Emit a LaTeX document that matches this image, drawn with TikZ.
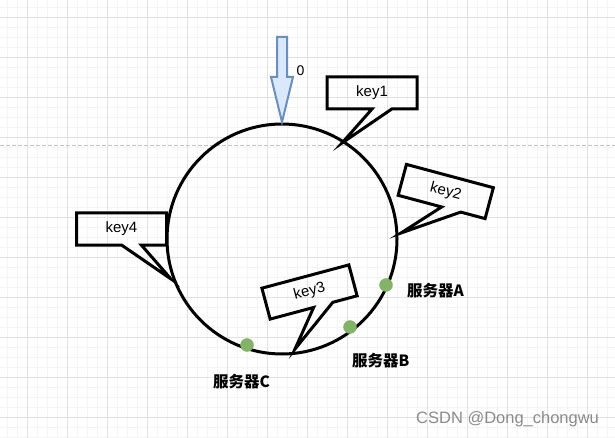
\documentclass[tikz,border=0pt]{standalone}
\usepackage{fontspec}
\setmainfont{Liberation Sans}
\newfontfamily\cjkfont{Noto Sans CJK SC}
\usetikzlibrary{calc}
\definecolor{gridmajor}{HTML}{E2E2E2}
\definecolor{gridminor}{HTML}{F4F4F4}
\definecolor{pagebreak}{HTML}{C4C4C4}
\definecolor{arrowline}{HTML}{6C8EBF}
\definecolor{arrowfill}{HTML}{DAE8FC}
\definecolor{dotgreen}{HTML}{82B366}
\definecolor{markgray}{HTML}{8A8A8A}
\newcommand\keycallout[2]{%
  \draw[calloutline] (#1.north west) -- (#1.north east) -- (#1.south east)
    -- ($(#1.south west)!0.72!(#1.south east)$) -- (#2)
    -- ($(#1.south west)!0.5!(#1.south east)$) -- (#1.south west) -- cycle;}
\begin{document}
\begin{tikzpicture}[x=1pt,y=-1pt,
  keybox/.style={minimum width=90pt, minimum height=32pt, inner sep=0pt, outer sep=0pt,
    font=\fontsize{15}{18}\selectfont},
  calloutline/.style={draw=black, line width=3pt, line join=miter},
  server/.style={anchor=west, inner sep=0pt, font=\cjkfont\bfseries\fontsize{15.5}{17}\selectfont},
  srvdot/.style={circle, fill=dotgreen, draw=dotgreen, minimum size=13pt, inner sep=0pt},
  ringstyle/.style={circle, draw=black, line width=3pt, minimum size=230pt, inner sep=0pt, outer sep=0pt},
  blockarrow/.style={draw=arrowline, fill=arrowfill, line width=2pt, line join=miter}]
\useasboundingbox (0,0) rectangle (615,438);
\fill[white] (0,0) rectangle (615,438);
% grid
\foreach \g in {7.3,17.3,...,615} {\draw[gridminor, line width=1pt] (\g,0) -- (\g,438);}
\foreach \g in {7.3,17.3,...,438} {\draw[gridminor, line width=1pt] (0,\g) -- (615,\g);}
\foreach \g in {27.3,67.3,...,615} {\draw[gridmajor, line width=1pt] (\g,0) -- (\g,438);}
\foreach \g in {17.3,57.3,...,438} {\draw[gridmajor, line width=1pt] (0,\g) -- (615,\g);}
\draw[pagebreak, line width=1pt, dash pattern=on 4pt off 2pt] (0,146) -- (615,146);
% ring
\node[ringstyle] (ring) at (282,239) {};
% zero arrow
\coordinate (arrowtip) at (282,122);
\draw[blockarrow] (277,37) -- (287,37) -- (287,77) -- (293,77) -- (arrowtip) -- (271,77) -- (277,77) -- cycle;
\node[font=\fontsize{14}{16}\selectfont, inner sep=0pt] (zero) at (300.5,70.5) {0};
% callouts
\node[keybox] (key1) at (372,93) {key1};
\coordinate (tip1) at (342,143);
\keycallout{key1}{tip1}
\node[keybox, rotate=-15] (key2) at (445.75,191.5) {key2};
\coordinate (tip2) at (401,233);
\keycallout{key2}{tip2}
\node[keybox, rotate=15] (key3) at (309.5,292) {key3};
\coordinate (tip3) at (295,349);
\keycallout{key3}{tip3}
\node[keybox] (key4) at (121.5,229) {key4};
\coordinate (tip4) at (171,279);
\keycallout{key4}{tip4}
% servers
\node[srvdot] (dotA) at (386,285) {};
\node[srvdot] (dotB) at (350,327) {};
\node[srvdot] (dotC) at (247,345) {};
\node[server] (labA) at (407,291) {服务器A};
\node[server] (labB) at (352,361) {服务器B};
\node[server] (labC) at (213,382) {服务器C};
% watermark
\node[anchor=west, inner sep=0pt, text=markgray, font=\fontsize{16.5}{18}\selectfont] (mark) at (416,419) {CSDN @Dong\_chongwu};
\end{tikzpicture}
\end{document}
